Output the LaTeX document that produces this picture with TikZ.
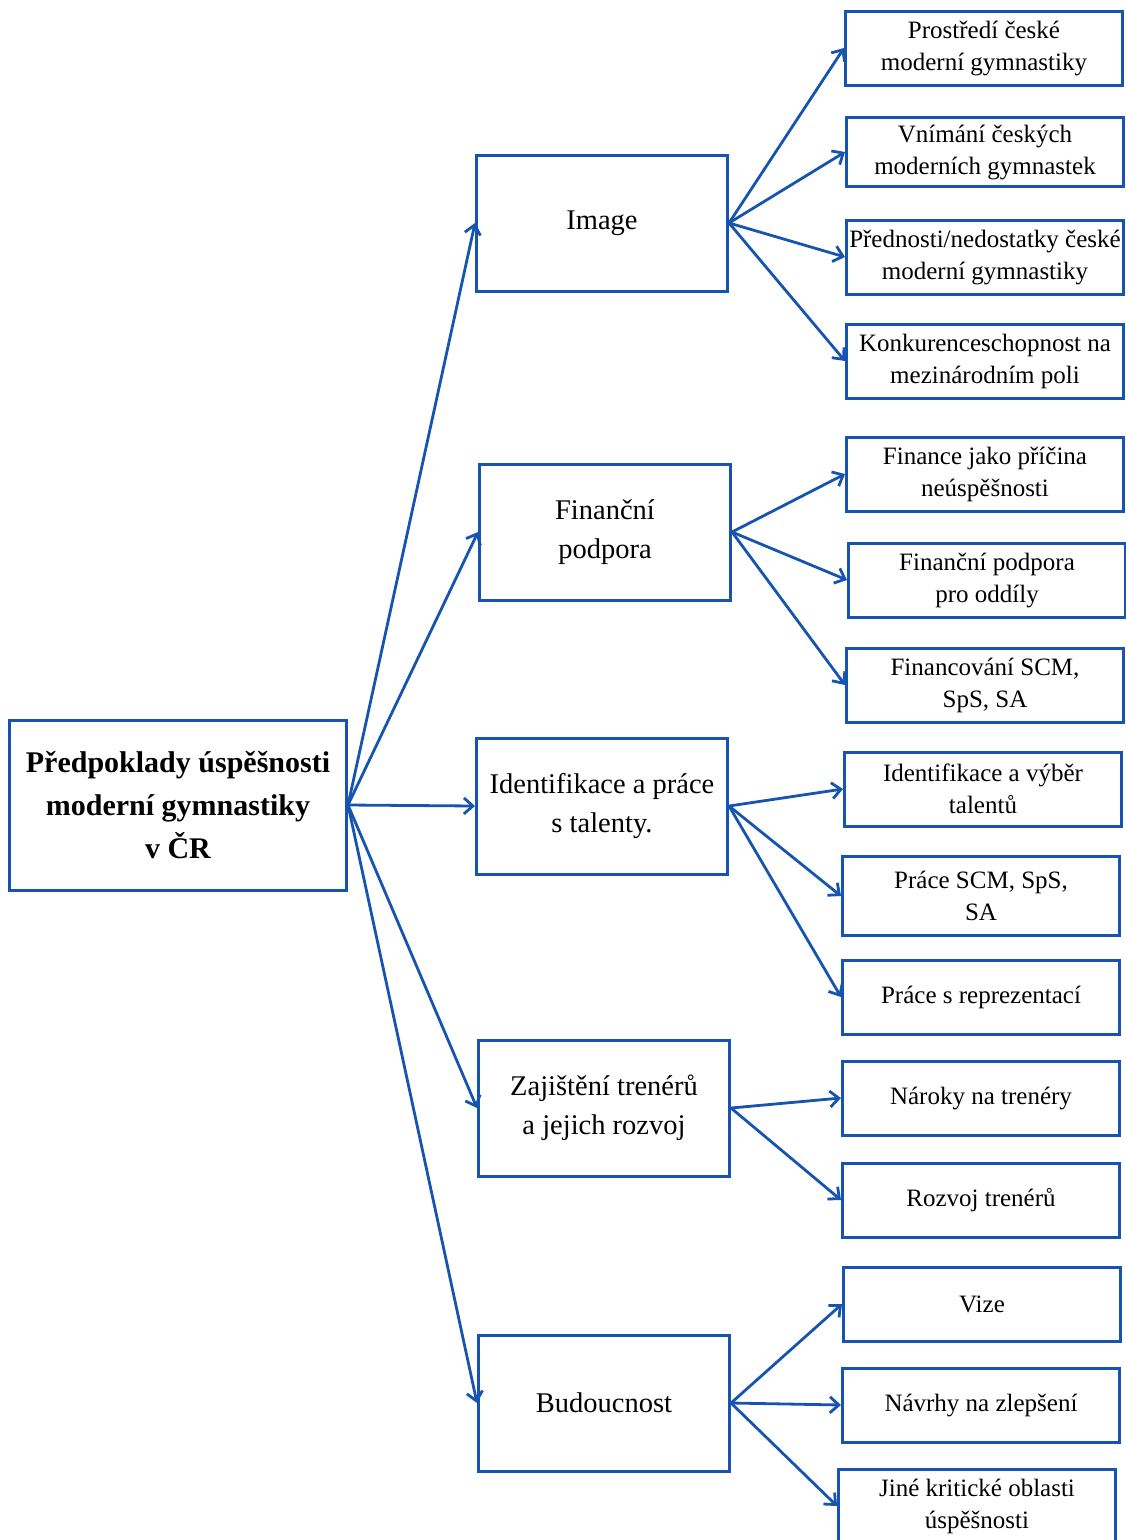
\documentclass[tikz,border=0pt]{standalone}
\usepackage{fontspec}
\setmainfont{Liberation Serif}
\usetikzlibrary{arrows.meta}
\definecolor{boxblue}{RGB}{22,84,176}

\tikzset{
  rootbox/.style={draw=boxblue, line width=3pt, minimum width=337pt, minimum height=170pt, inner sep=0pt, align=center, font=\fontsize{30}{43}\selectfont\bfseries},
  mainbox/.style={draw=boxblue, line width=3pt, minimum width=251pt, minimum height=136pt, inner sep=0pt, align=center, font=\fontsize{28.5}{39}\selectfont},
  subbox/.style={draw=boxblue, line width=3pt, minimum width=277pt, minimum height=74pt, inner sep=0pt, align=center, font=\fontsize{25}{32}\selectfont},
  link/.style={->, draw=boxblue, line width=2.8pt}
}

\begin{document}
\begin{tikzpicture}[x=1pt, y=-1pt, >={Straight Barb[length=9pt, width=16pt]}]
				\useasboundingbox (0,0) rectangle (1126,1540);

				% Draw the root box
				\node[rootbox] (root) at (178,805) {Předpoklady úspěšnosti\\moderní gymnastiky\\v ČR};

				% Draw the main areas
				\node[mainbox] (image) at (602,223) {Image};
				\node[mainbox] (finance) at (605,532) {Finanční\\podpora};
				\node[mainbox] (talent) at (602,806) {Identifikace a práce\\s talenty.};
				\node[mainbox] (coach) at (604,1108) {Zajištění trenérů\\a jejich rozvoj};
				\node[mainbox] (future) at (604,1403) {Budoucnost};

				% Draw the sub areas
				\node[subbox] (env) at (984,48) {Prostředí české\\moderní gymnastiky};
				\node[subbox, minimum height=69pt] (percept) at (985,152) {Vnímání českých\\moderních gymnastek};
				\node[subbox] (pros) at (985,257) {Přednosti/nedostatky české\\moderní gymnastiky};
				\node[subbox] (compet) at (985,361) {Konkurenceschopnost na\\mezinárodním poli};
				\node[subbox] (cause) at (985,474) {Finance jako příčina\\neúspěšnosti};
				\node[subbox] (clubs) at (987,580) {Finanční podpora\\pro oddíly};
				\node[subbox] (scmfin) at (985,685) {Financování SCM,\\SpS, SA};
				\node[subbox] (select) at (983,789) {Identifikace a výběr\\talentů};
				\node[subbox, minimum height=79pt] (scmwork) at (981,896) {Práce SCM, SpS,\\SA};
				\node[subbox] (team) at (981,997) {Práce s reprezentací};
				\node[subbox] (demands) at (981,1098) {Nároky na trenéry};
				\node[subbox] (develop) at (981,1200) {Rozvoj trenérů};
				\node[subbox] (vision) at (982,1304) {Vize};
				\node[subbox] (ideas) at (981,1405) {Návrhy na zlepšení};
				\node[subbox] (other) at (977,1506) {Jiné kritické oblasti\\úspěšnosti};

				% Draw the arrows from the root
				\draw[link] (root.east) -- (image.west);
				\draw[link] (root.east) -- (finance.west);
				\draw[link] (root.east) -- (talent.west);
				\draw[link] (root.east) -- (coach.west);
				\draw[link] (root.east) -- (future.west);

				% Draw the arrows to the sub areas
				\draw[link] (image.east) -- (env.west);
				\draw[link] (image.east) -- (percept.west);
				\draw[link] (image.east) -- (pros.west);
				\draw[link] (image.east) -- (compet.west);
				\draw[link] (finance.east) -- (cause.west);
				\draw[link] (finance.east) -- (clubs.west);
				\draw[link] (finance.east) -- (scmfin.west);
				\draw[link] (talent.east) -- (select.west);
				\draw[link] (talent.east) -- (scmwork.west);
				\draw[link] (talent.east) -- (team.west);
				\draw[link] (coach.east) -- (demands.west);
				\draw[link] (coach.east) -- (develop.west);
				\draw[link] (future.east) -- (vision.west);
				\draw[link] (future.east) -- (ideas.west);
				\draw[link] (future.east) -- (other.west);
			\end{tikzpicture}
\end{document}
